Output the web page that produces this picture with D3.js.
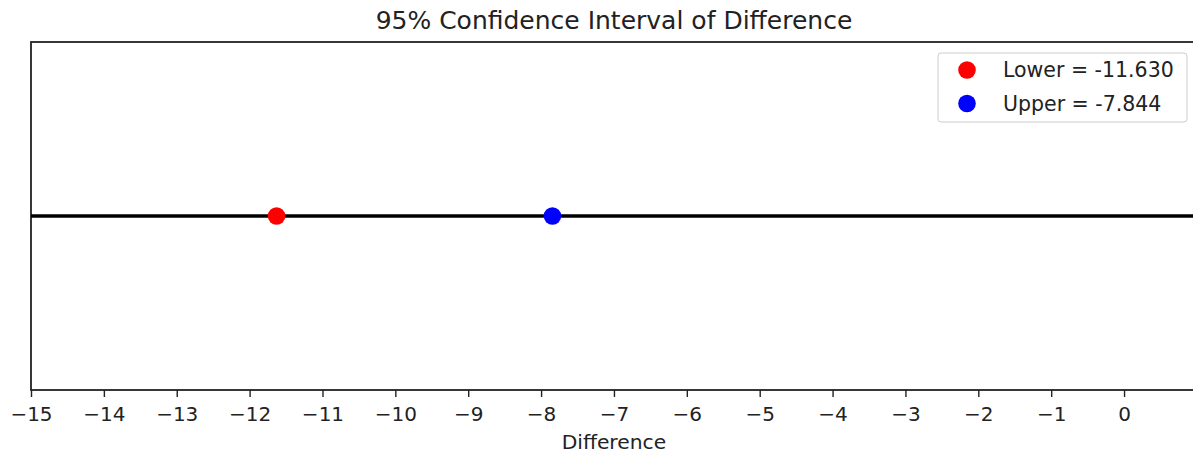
<!DOCTYPE html>
<html><head><meta charset="utf-8">
<script src="https://cdn.jsdelivr.net/npm/d3@7"></script>
<style>body{margin:0;background:#fff;overflow:hidden}svg{display:block}</style>
</head><body>
<svg id="c" width="1193" height="456"></svg>
<script>
const title = "95% Confidence Interval of Difference";
const xLabel = "Difference";
const pointNames = ["Lower", "Upper"];
const pointValues = [-11.630, -7.844];
const pointColors = ["#ff0000", "#0000ff"];
const xTicks = [-15,-14,-13,-12,-11,-10,-9,-8,-7,-6,-5,-4,-3,-2,-1,0];
const xDomain = [-15, 1];

const svg = d3.select("#c");
const pLeft = 31, pTop = 42, pBottom = 390, pRight = 31 + 16 * 72.87;
const x = d3.scaleLinear().domain(xDomain).range([pLeft, pRight]);
const yMid = (pTop + pBottom) / 2;
const font = "'DejaVu Sans', sans-serif";

// frame
svg.append("rect").attr("x", pLeft).attr("y", pTop).attr("width", pRight - pLeft).attr("height", pBottom - pTop)
  .attr("fill", "none").attr("stroke", "#222").attr("stroke-width", 1.8);

// horizontal line
svg.append("line").attr("x1", pLeft).attr("x2", pRight).attr("y1", yMid).attr("y2", yMid)
  .attr("stroke", "#000").attr("stroke-width", 3.6);

// points
svg.selectAll("circle.pt").data(pointValues).join("circle").attr("class", "pt")
  .attr("cx", d => x(d)).attr("cy", yMid).attr("r", 8.8)
  .attr("fill", (d, i) => pointColors[i]);

// axis
const axis = d3.axisBottom(x).tickValues(xTicks).tickSize(7).tickPadding(10)
  .tickFormat(d => d < 0 ? "\u2212" + Math.abs(d) : String(d));
const g = svg.append("g").attr("transform", `translate(0,${pBottom})`).call(axis);
g.select(".domain").remove();
g.selectAll(".tick line").attr("stroke", "#222").attr("stroke-width", 1.4);
g.selectAll(".tick text").attr("fill", "#222").style("font-family", font).style("font-size", "20px");

// title
svg.append("text").attr("x", (pLeft + pRight) / 2).attr("y", 29).attr("text-anchor", "middle")
  .style("font-family", font).style("font-size", "25px").attr("fill", "#222").text(title);

// x label
svg.append("text").attr("x", (pLeft + pRight) / 2).attr("y", 449).attr("text-anchor", "middle")
  .style("font-family", font).style("font-size", "20.3px").attr("fill", "#222").text(xLabel);

// legend
const lg = svg.append("g");
lg.append("rect").attr("x", 938).attr("y", 53).attr("width", 249).attr("height", 69).attr("rx", 3)
  .attr("fill", "#fff").attr("fill-opacity", 0.8).attr("stroke", "#ccc").attr("stroke-width", 1);
pointNames.forEach((n, i) => {
  const yy = 70 + i * 33.5;
  lg.append("circle").attr("cx", 967).attr("cy", yy).attr("r", 8.8).attr("fill", pointColors[i]);
  lg.append("text").attr("x", 1003).attr("y", yy).attr("dy", "0.36em")
    .style("font-family", font).style("font-size", "20.5px").attr("fill", "#222")
    .text(`${n} = ${pointValues[i].toFixed(3)}`);
});
</script>
</body></html>
